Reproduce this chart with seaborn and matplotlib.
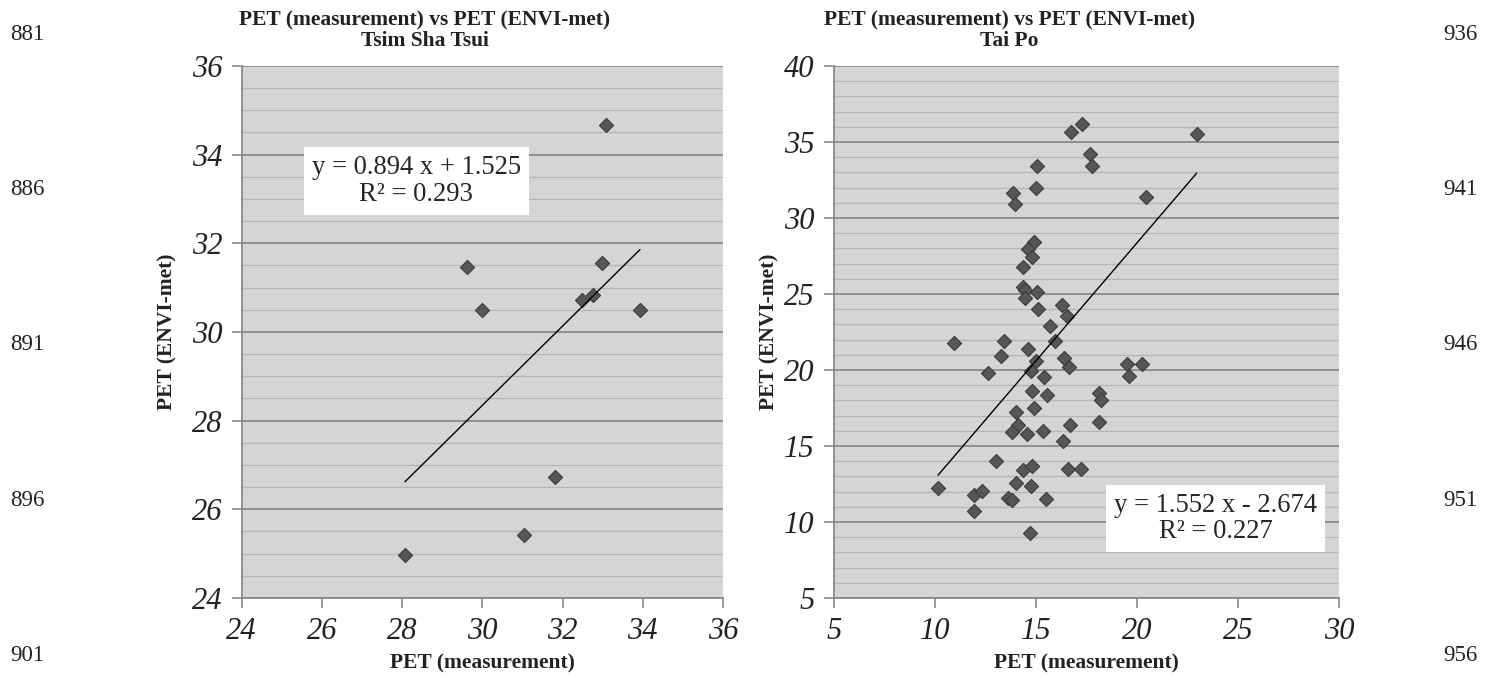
import matplotlib
matplotlib.use("Agg")
import matplotlib.pyplot as plt
import pandas as pd
import seaborn as sns
from matplotlib.ticker import MultipleLocator

sns.set_style("white")
plt.rcParams["font.family"] = ["Liberation Serif", "DejaVu Serif"]

# Tsim Sha Tsui: PET measured vs PET simulated by ENVI-met
tst_measured = [33.08, 29.61, 32.99, 29.98, 32.49, 32.75, 33.93, 31.80, 31.03, 28.07]
tst_envimet = [34.67, 31.47, 31.55, 30.49, 30.73, 30.83, 30.50, 26.72, 25.41, 24.96]
tst_fit = (0.894, 1.525)
tst_r2 = 0.293

# Tai Po
tp_measured = [16.72, 17.26, 22.95, 17.69, 17.79, 15.05, 15.00, 20.46, 13.88, 13.96,
               14.90, 14.60, 14.80, 14.34, 14.37, 14.44, 15.07, 14.44, 16.30, 15.12,
               16.53, 15.69, 10.94, 13.42, 15.96, 13.25, 14.62, 15.02, 16.37, 16.65,
               19.52, 20.25, 19.62, 12.61, 14.75, 15.38, 14.79, 15.54, 18.14, 18.23,
               14.90, 14.01, 14.09, 13.80, 14.54, 15.33, 16.70, 18.14, 16.36, 13.00,
               14.37, 14.82, 16.56, 17.24, 10.15, 11.95, 12.34, 13.99, 14.75, 13.63,
               13.81, 15.51, 11.91, 14.72]
tp_envimet = [35.68, 36.21, 35.50, 34.21, 33.44, 33.40, 31.95, 31.40, 31.62, 30.92,
              28.42, 27.96, 27.41, 26.78, 25.46, 25.29, 25.13, 24.76, 24.30, 24.01,
              23.53, 22.92, 21.80, 21.91, 21.91, 20.90, 21.36, 20.59, 20.81, 20.20,
              20.42, 20.37, 19.61, 19.82, 19.93, 19.52, 18.60, 18.38, 18.49, 18.05,
              17.50, 17.24, 16.38, 15.94, 15.77, 15.97, 16.38, 16.56, 15.31, 13.99,
              13.42, 13.66, 13.51, 13.51, 12.26, 11.80, 12.02, 12.59, 12.37, 11.58,
              11.43, 11.49, 10.72, 9.28]
tp_fit = (1.552, -2.674)
tp_r2 = 0.227

left_page_numbers = ["881", "886", "891", "896", "901"]
right_page_numbers = ["936", "941", "946", "951", "956"]

BG = "#d5d5d5"
MAJOR = "#8a8a8a"
MINOR = "#b4b4b4"
MARK = "#565656"


def draw_panel(ax, meas, envi, fit, r2, lims, major, minor, box_at):
    df = pd.DataFrame({"meas": meas, "envi": envi})
    ax.set_facecolor(BG)
    ax.set_axisbelow(True)

    sns.scatterplot(data=df, x="meas", y="envi", marker="D", s=52,
                    color=MARK, edgecolor="#3c3c3c", linewidth=0.8, ax=ax, zorder=3)

    # trend line over the measured range
    a, b = fit
    xs = [df["meas"].min(), df["meas"].max()]
    line = pd.DataFrame({"x": xs, "y": [a * v + b for v in xs]})
    sns.lineplot(data=line, x="x", y="y", color="black", linewidth=1.0, ax=ax, zorder=4)

    sign = "+" if b >= 0 else "-"
    eq = f"y = {a:.3f} x {sign} {abs(b):.3f}\nR\u00b2 = {r2:.3f}"
    ax.text(box_at[0], box_at[1], eq, ha="center", va="center", fontsize=19.2,
            linespacing=1.08, zorder=5,
            bbox=dict(boxstyle="square,pad=0.3", facecolor="white", edgecolor="none"))

    ax.set_xlim(*lims[0])
    ax.set_ylim(*lims[1])
    ax.xaxis.set_major_locator(MultipleLocator(major[0]))
    ax.yaxis.set_major_locator(MultipleLocator(major[1]))
    ax.yaxis.set_minor_locator(MultipleLocator(minor))
    ax.grid(False)
    ax.grid(which="major", axis="y", color=MAJOR, linewidth=1.3)
    ax.grid(which="minor", axis="y", color=MINOR, linewidth=0.9)

    for side in ["top", "right"]:
        ax.spines[side].set_visible(False)
    for side in ["left", "bottom"]:
        ax.spines[side].set_color(MAJOR)
        ax.spines[side].set_linewidth(1.3)

    ax.tick_params(which="major", direction="out", length=7, width=1.2, color=MAJOR,
                   labelsize=22, pad=7, left=True, bottom=True)
    ax.tick_params(which="minor", length=0)
    for lab in ax.get_xticklabels() + ax.get_yticklabels():
        lab.set_fontstyle("italic")
        lab.set_color("#222222")

    ax.set_xlabel("PET (measurement)", fontsize=15.5, fontweight="bold", color="#222222")
    ax.set_ylabel("PET (ENVI-met)", fontsize=15.5, fontweight="bold", color="#222222")
    ax.xaxis.set_label_coords(0.5, -0.105)


fig = plt.figure(figsize=(15, 6.8), dpi=100)
ax1 = fig.add_axes([0.1611, 0.1206, 0.3209, 0.7824])
ax2 = fig.add_axes([0.556, 0.1206, 0.3367, 0.7824])

draw_panel(ax1, tst_measured, tst_envimet, tst_fit, tst_r2,
           ((24, 36), (24, 36)), (2, 2), 0.5, (28.35, 33.4))
draw_panel(ax2, tp_measured, tp_envimet, tp_fit, tp_r2,
           ((5, 30), (5, 40)), (5, 5), 1, (23.9, 10.23))

ax1.yaxis.set_label_coords(-0.133, 0.5)
ax2.yaxis.set_label_coords(-0.107, 0.5)

fig.text(0.283, 0.985, "PET (measurement) vs PET (ENVI-met)\nTsim Sha Tsui",
         ha="center", va="top", fontsize=15.5, fontweight="bold",
         color="#222222", linespacing=1.05)
fig.text(0.673, 0.985, "PET (measurement) vs PET (ENVI-met)\nTai Po",
         ha="center", va="top", fontsize=15.5, fontweight="bold",
         color="#222222", linespacing=1.05)

for i, num in enumerate(left_page_numbers):
    fig.text(0.007, 0.95 - i * 0.2285, num, ha="left", va="center",
             fontsize=16.5, color="#222222")
for i, num in enumerate(right_page_numbers):
    fig.text(0.962, 0.95 - i * 0.2285, num, ha="left", va="center",
             fontsize=16.5, color="#222222")

fig.savefig("out.png", dpi=100, facecolor="white")
